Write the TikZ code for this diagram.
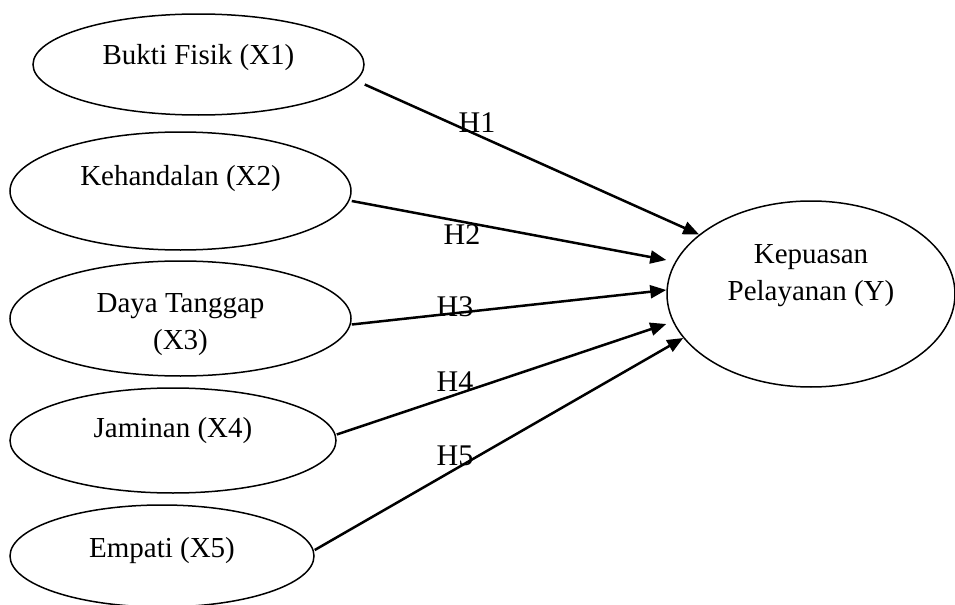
\documentclass[tikz,border=0pt]{standalone}
\usepackage{fontspec}
\setmainfont{Liberation Serif}
\usetikzlibrary{arrows.meta,%
                shapes,positioning}

\begin{document}
\begin{tikzpicture}[x=0.5pt,y=-0.5pt,
  oval/.style={draw,ellipse,line width=0.75pt,inner sep=0pt,align=center,
    font=\fontsize{14.5pt}{18.6pt}\selectfont,text height=10pt},
  hyp/.style={font=\fontsize{15pt}{18pt}\selectfont},
  link/.style={line width=1.25pt,-{Triangle[length=8pt,width=6.5pt]}}]
\useasboundingbox (0,0) rectangle (955,605);
\node[oval,minimum width=165.5pt,minimum height=50.5pt,text depth=10.4pt] (x1) at (198.5,64.5) {Bukti Fisik (X1)};
\node[oval,minimum width=170.5pt,minimum height=59pt,text depth=15.6pt] (x2) at (180.5,191) {Kehandalan (X2)};
\node[oval,minimum width=170.5pt,minimum height=57.5pt,text height=31.4pt,text depth=0pt] (x3) at (180.5,318.5) {Daya Tanggap\\(X3)};
\node[oval,minimum width=163pt,minimum height=52.5pt,text depth=12.6pt] (x4) at (173,440.5) {Jaminan (X4)};
\node[oval,minimum width=152pt,minimum height=51pt,text depth=8.9pt] (x5) at (162,556) {Empati (X5)};
\node[oval,minimum width=144pt,minimum height=93pt,text depth=3.1pt] (y) at (811,294) {Kepuasan\\Pelayanan (Y)};
\node[hyp] (h1) at (477,123) {H1};
\node[hyp] (h2) at (462,235) {H2};
\node[hyp] (h3) at (455,307) {H3};
\node[hyp] (h4) at (455,382) {H4};
\node[hyp] (h5) at (455,456) {H5};
\draw[link] ([yshift=-10pt]x1.east) -- (y.152);
\draw[link] ([yshift=-5pt]x2.east) -- ([yshift=17pt]y.west);
\draw[link] ([yshift=-3pt]x3.east) -- ([yshift=2pt]y.west);
\draw[link] ([yshift=3pt]x4.east) -- ([yshift=-15pt]y.west);
\draw[link] ([yshift=3pt]x5.east) -- (y.199);
\end{tikzpicture}
\end{document}
